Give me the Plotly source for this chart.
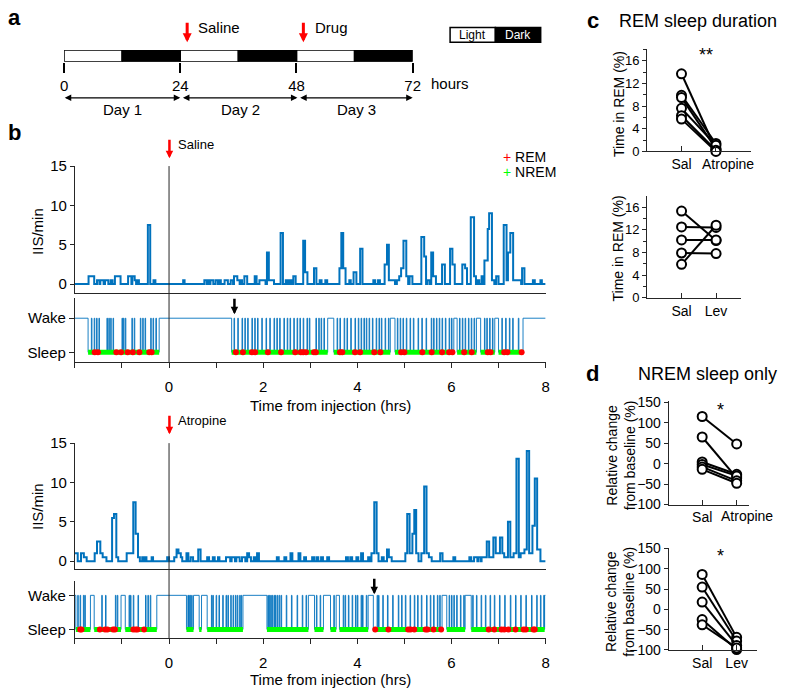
import plotly.graph_objects as go

W, H = 787, 696
BLUE = "#0072BD"
AX = "#262626"
FONT = "Liberation Sans, Arial, sans-serif"

# ---------------- panel a : recording timeline ----------------
light_start = [0, 24, 48]
light_end = [12, 36, 60]
dark_start = [12, 36, 60]
dark_end = [24, 48, 72]
day_ticks = [0, 24, 48, 72]
day_labels = ["Day 1", "Day 2", "Day 3"]

# ---------------- panel b : IIS rate (step series, hours / IIS per min) ----------------
sal_iis_t = [-2.00, -1.71, -1.59, -1.53, -1.48, -1.46, -1.39, -1.36, -1.29, -1.24, -1.20, -1.15, -1.03,
             -0.87, -0.80, -0.78, -0.73, -0.70, -0.67, -0.64, -0.45, -0.40, -0.33, -0.29, 0.30, 0.33,
             0.75, 0.80, 0.82, 0.86, 0.88, 0.94, 0.99, 1.04, 1.06, 1.10, 1.18, 1.25, 1.31, 1.36, 1.38,
             1.45, 1.50, 1.53, 1.55, 1.60, 1.66, 1.82, 1.86, 1.92, 2.05, 2.08, 2.12, 2.23, 2.37, 2.42,
             2.48, 2.52, 2.56, 2.60, 2.64, 2.69, 2.85, 2.89, 2.94, 3.08, 3.13, 3.20, 3.24, 3.32, 3.36,
             3.62, 3.66, 3.70, 3.75, 3.83, 3.86, 3.92, 3.98, 4.06, 4.11, 4.34, 4.38, 4.44, 4.48, 4.58,
             4.63, 4.67, 4.80, 4.84, 4.89, 4.93, 4.98, 5.04, 5.08, 5.11, 5.17, 5.36, 5.42, 5.46, 5.49,
             5.54, 5.57, 5.61, 5.67, 5.80, 5.86, 5.97, 6.02, 6.07, 6.23, 6.29, 6.33, 6.41, 6.48, 6.52,
             6.56, 6.59, 6.64, 6.67, 6.70, 6.77, 6.80, 6.86, 6.91, 6.95, 7.00, 7.11, 7.17, 7.20, 7.25,
             7.31, 7.48, 7.50, 7.55, 7.73, 7.77, 7.89, 7.92, 8.00]
sal_iis_v = [0, 1, 0, 0.5, 0, 0.5, 0, 0.5, 0, 0.5, 0, 1, 0,
             1, 0, 1, 0.5, 0, 0.5, 0, 7.5, 0, 0.5, 0, 0.5, 0,
             0.5, 0, 0.5, 0, 0.5, 0, 0.5, 0, 0.5, 0, 0.5, 0, 0.5, 0, 1,
             0.5, 0, 0.5, 0, 1, 0, 1, 0, 0.5, 0, 4, 0.5, 0, 6.5, 0,
             0.5, 0, 0.5, 0, 1, 0, 5.5, 1.5, 0, 2, 0, 0.5, 0, 0.5, 0,
             2, 6.5, 2, 0, 0.5, 0, 1.5, 0, 4.5, 0, 0.5, 0, 0.5, 0, 2.5,
             5, 0.5, 0, 0.5, 1, 2, 5.5, 1, 0, 1, 0, 6, 3.5, 0, 0.5,
             0, 4, 1, 0, 2.5, 0, 4.5, 2.5, 0, 2.5, 2, 0, 8.5, 1, 0,
             0.5, 0, 1, 0, 3, 7, 9, 0.5, 0, 1, 0, 7.5, 0.5, 4, 6.5,
             0.5, 0, 2, 0, 0.5, 0, 0.5, 0, 0]

atr_iis_t = [-2.00, -1.94, -1.87, -1.81, -1.75, -1.58, -1.53, -1.46, -1.41, -1.33, -1.21, -1.17, -1.12,
             -1.08, -0.90, -0.76, -0.71, -0.66, -0.62, -0.57, -0.55, -0.52, -0.48, -0.37, -0.34, -0.04,
             0.00, 0.11, 0.16, 0.20, 0.25, 0.28, 0.37, 0.41, 0.46, 0.51, 0.62, 0.67, 0.81, 0.85, 0.93,
             0.97, 1.04, 1.07, 1.21, 1.30, 1.33, 1.40, 1.43, 1.50, 1.55, 1.62, 1.66, 1.70, 1.74, 1.80,
             1.84, 1.87, 1.91, 2.29, 2.33, 2.45, 2.49, 2.58, 2.62, 2.75, 2.79, 2.87, 2.91, 3.04, 3.08,
             3.13, 3.17, 3.23, 3.27, 3.36, 3.40, 3.76, 3.80, 3.85, 3.89, 3.98, 4.02, 4.08, 4.12, 4.23,
             4.27, 4.30, 4.36, 4.41, 4.45, 4.52, 4.56, 4.63, 4.67, 4.73, 5.02, 5.06, 5.11, 5.17, 5.21,
             5.25, 5.30, 5.36, 5.42, 5.47, 5.52, 5.58, 5.76, 5.81, 6.04, 6.08, 6.38, 6.42, 6.48, 6.55,
             6.57, 6.62, 6.64, 6.75, 6.80, 6.89, 6.94, 7.03, 7.08, 7.12, 7.20, 7.25, 7.32, 7.38, 7.43,
             7.47, 7.55, 7.60, 7.65, 7.72, 7.77, 7.82, 7.89, 8.00]
atr_iis_v = [1, 0, 1, 0.5, 0, 1, 2.5, 1, 0.5, 0, 5.5, 6, 0.5,
             0, 1, 7.5, 3.5, 0.5, 0, 0.5, 0, 0.5, 0, 0.5, 0, 0.5,
             0, 0.5, 1.5, 1, 0.5, 0, 1, 0, 0.5, 0, 1.5, 0, 0.5, 0, 0.5,
             0, 0.5, 0, 0.5, 0, 0.5, 0, 0.5, 0, 0.5, 0, 1, 0.5, 0, 0.5,
             0, 1, 0, 0.5, 0, 0.5, 0, 1, 0, 1, 0, 0.5, 0, 0.5, 0,
             0.5, 0, 0.5, 0, 0.5, 0, 0.5, 0, 0.5, 0, 0.5, 0, 1, 0, 0.5,
             0, 1, 7.5, 1, 0, 0.5, 0, 1.5, 0.5, 0, 1, 6, 1, 3.5, 6.5,
             1, 0, 1, 9.5, 1, 0.5, 0, 1, 0, 0.5, 0, 0.5, 0, 0.5, 0,
             0.5, 0, 0.5, 2.5, 0.5, 3, 1, 3, 1, 0.5, 5, 0.5, 1, 13, 0.5,
             1, 1.5, 14, 1, 4.5, 10.5, 1.5, 0, 0]

# ---------------- panel b : hypnograms ----------------
sal_sleep_start = [-1.72, 1.33, 3.50, 4.80, 6.12, 6.62, 7.00]
sal_sleep_end = [-0.21, 3.37, 4.70, 6.05, 6.53, 6.92, 7.52]
sal_wake_blips = [-1.65, -1.59, -1.54, -1.49, -1.32, -1.28, -1.24, -1.19, -1.00, -0.97, -0.93, -0.79,
                  -0.74, -0.61, -0.56, -0.51, -0.39, -0.34, -0.28, 1.38, 1.46, 1.55, 1.61, 1.67, 1.76,
                  1.82, 1.88, 1.97, 2.06, 2.14, 2.23, 2.29, 2.35, 2.44, 2.51, 2.57, 2.65, 2.72, 2.78,
                  2.85, 2.93, 2.98, 3.12, 3.18, 3.23, 3.29, 3.57, 3.63, 3.72, 3.78, 3.86, 3.95, 4.02,
                  4.08, 4.14, 4.19, 4.25, 4.32, 4.40, 4.46, 4.51, 4.59, 4.66, 4.85, 4.91, 4.97, 5.04,
                  5.12, 5.19, 5.29, 5.37, 5.46, 5.57, 5.62, 5.68, 5.74, 5.80, 5.87, 5.95, 6.00, 6.17,
                  6.23, 6.29, 6.36, 6.42, 6.48, 6.70, 6.75, 6.81, 6.87, 7.07, 7.15, 7.23, 7.30, 7.42]
sal_rem = [-1.58, -1.51, -1.12, -1.02, -0.88, -0.77, -0.63, -0.42, -0.37, 1.42, 1.57, 1.76, 1.83, 2.10,
           2.38, 2.68, 2.80, 2.85, 2.91, 3.08, 3.12, 3.63, 3.68, 3.95, 4.06, 4.36, 4.49, 4.93, 5.00,
           5.38, 5.58, 5.80, 5.95, 6.02, 6.27, 6.43, 6.77, 6.83, 7.12, 7.19, 7.49]

atr_sleep_start = [-1.98, -1.59, -0.93, 0.37, 0.64, 0.81, 2.08, 3.09, 3.43, 3.62, 4.34, 5.90, 6.42]
atr_sleep_end = [-1.67, -1.02, -0.26, 0.52, 0.69, 1.57, 2.96, 3.28, 3.55, 4.23, 5.80, 6.29, 7.98]
atr_wake_blips = [-1.94, -1.89, -1.82, -1.79, -1.43, -1.35, -1.14, -1.10, -0.85, -0.82, -0.76, -0.66,
                  -0.50, -0.45, -0.40, 0.40, 0.42, 0.45, 0.48, 0.90, 0.93, 1.00, 1.06, 1.14, 1.21,
                  1.25, 1.31, 1.36, 1.41, 1.45, 1.50, 1.53, 2.10, 2.13, 2.16, 2.19, 2.23, 2.26, 2.30,
                  2.34, 2.38, 2.49, 2.60, 2.72, 2.83, 2.91, 3.13, 3.21, 3.50, 3.70, 3.74, 3.81, 3.89,
                  3.96, 4.00, 4.08, 4.11, 4.19, 4.42, 4.45, 4.54, 4.64, 4.75, 4.87, 4.94, 5.02, 5.12,
                  5.21, 5.28, 5.36, 5.47, 5.55, 5.62, 5.70, 5.75, 5.95, 6.00, 6.05, 6.11, 6.19, 6.26,
                  6.45, 6.53, 6.63, 6.72, 6.82, 6.91, 7.02, 7.13, 7.25, 7.36, 7.47, 7.58, 7.70, 7.81,
                  7.89, 7.96]
atr_rem = [-1.89, -1.86, -1.47, -1.36, -1.31, -1.19, -1.15, -0.76, -0.71, -0.67, -0.53, 4.38, 4.66,
           5.08, 5.13, 5.21, 5.45, 5.49, 5.62, 5.78, 6.79, 6.91, 7.06, 7.12, 7.21, 7.36, 7.53, 7.58,
           7.74, 7.77]

# ---------------- panel c : REM sleep duration (%) ----------------
c1_groups = ["Sal", "Atropine"]
c1_sal = [13.7, 9.9, 9.5, 7.6, 6.3, 5.7]
c1_drug = [0.3, 1.4, 0.5, 1.1, 0.2, 0.0]
c2_groups = ["Sal", "Lev"]
c2_sal = [15.3, 12.5, 10.2, 7.9, 5.9]
c2_drug = [10.1, 12.4, 10.2, 7.8, 12.8]

# ---------------- panel d : NREM relative change (%) ----------------
d1_groups = ["Sal", "Atropine"]
d1_sal = [115, 65, 4, -2, -8, -14]
d1_drug = [48, -35, -26, -30, -42, -48]
d2_groups = ["Sal", "Lev"]
d2_sal = [86, 55, 18, -25, -38]
d2_drug = [-69, -78, -89, -99, -95]


def fx(p):
    return p / W


def fy(p):
    return 1 - p / H


def hypnogram(starts, ends, blips, w=0.012):
    xs, ys = [-2.0], [1]
    for s, e in zip(starts, ends):
        xs.append(s)
        ys.append(0)
        for b in blips:
            if s < b < e:
                xs += [b, b + w]
                ys += [1, 0]
        xs.append(e)
        ys.append(1)
    xs.append(8.0)
    ys.append(1)
    return xs, ys


def nrem_band(starts, ends):
    xs, ys = [], []
    for s, e in zip(starts, ends):
        xs += [s, e, None]
        ys += [0, 0, None]
    return xs, ys


fig = go.Figure()

# panel a bars
fig.add_trace(go.Bar(
    y=[0] * len(light_start), x=[e - s for s, e in zip(light_start, light_end)], base=light_start,
    orientation="h", width=1, marker=dict(color="white", line=dict(color="black", width=1.5)),
    xaxis="x", yaxis="y", hoverinfo="skip",
))
fig.add_trace(go.Bar(
    y=[0] * len(dark_start), x=[e - s for s, e in zip(dark_start, dark_end)], base=dark_start,
    orientation="h", width=1, marker=dict(color="black", line=dict(color="black", width=1.5)),
    xaxis="x", yaxis="y", hoverinfo="skip",
))

# panel b traces
for (it, iv, ax_iis), (ss, se, bl, rem, ax_h) in [
    ((sal_iis_t, sal_iis_v, ("x2", "y2")), (sal_sleep_start, sal_sleep_end, sal_wake_blips, sal_rem, ("x3", "y3"))),
    ((atr_iis_t, atr_iis_v, ("x4", "y4")), (atr_sleep_start, atr_sleep_end, atr_wake_blips, atr_rem, ("x5", "y5"))),
]:
    fig.add_trace(go.Scatter(x=it, y=iv, mode="lines", line=dict(color=BLUE, width=2, shape="hv"),
                             xaxis=ax_iis[0], yaxis=ax_iis[1]))
    hx, hy = hypnogram(ss, se, bl)
    fig.add_trace(go.Scatter(x=hx, y=hy, mode="lines", line=dict(color=BLUE, width=0.9, shape="hv"),
                             xaxis=ax_h[0], yaxis=ax_h[1]))
    nx, ny = nrem_band(ss, se)
    fig.add_trace(go.Scatter(x=nx, y=ny, mode="lines", line=dict(color="#00FF00", width=5),
                             xaxis=ax_h[0], yaxis=ax_h[1]))
    fig.add_trace(go.Scatter(x=rem, y=[0] * len(rem), mode="markers",
                             marker=dict(color="#FF0000", size=6, symbol="circle"),
                             xaxis=ax_h[0], yaxis=ax_h[1]))

# panels c and d paired plots
for sal, drug, xa, ya in [(c1_sal, c1_drug, "x6", "y6"), (c2_sal, c2_drug, "x7", "y7"),
                          (d1_sal, d1_drug, "x8", "y8"), (d2_sal, d2_drug, "x9", "y9")]:
    for a, b in zip(sal, drug):
        fig.add_trace(go.Scatter(
            x=[1, 2], y=[a, b], mode="lines+markers", cliponaxis=False,
            line=dict(color="black", width=2),
            marker=dict(symbol="circle", size=9, color="white", line=dict(color="black", width=2)),
            xaxis=xa, yaxis=ya,
        ))

base_ax = dict(showgrid=False, zeroline=False, showline=True, linecolor=AX, linewidth=1,
               tickcolor=AX, tickfont=dict(size=15, color="black"))

hrs_x = dict(base_ax, domain=[fx(72), fx(550)], range=[-2, 8])
hr_ticks = list(range(-2, 9))
hr_text = [str(t) if t >= 0 and t % 2 == 0 else "" for t in hr_ticks]

layout = dict(
    xaxis=dict(domain=[fx(61), fx(415)], range=[0, 72], tickvals=day_ticks,
               ticktext=[str(t) for t in day_ticks], ticks="outside", ticklen=10, tickwidth=1.5,
               tickcolor="black", showline=False, showgrid=False, zeroline=False,
               tickfont=dict(size=15, color="black"), anchor="y"),
    yaxis=dict(domain=[fy(54), fy(42)], range=[-0.5, 0.5], visible=False, anchor="x"),

    xaxis2=dict(hrs_x, showticklabels=False, ticks="", anchor="y2"),
    yaxis2=dict(base_ax, domain=[fy(291), fy(161)], range=[-1.12, 15], tickvals=[0, 5, 10, 15],
                ticks="outside", ticklen=4, anchor="x2"),
    xaxis3=dict(hrs_x, tickvals=hr_ticks, ticktext=hr_text, ticks="outside", ticklen=5,
                ticklabelstandoff=6, anchor="y3"),
    yaxis3=dict(base_ax, domain=[fy(362), fy(296)], range=[-0.29, 1.6], tickvals=[0, 1],
                ticktext=["Sleep", "Wake"], ticks="outside", ticklen=5, anchor="x3"),

    xaxis4=dict(hrs_x, showticklabels=False, ticks="", anchor="y4"),
    yaxis4=dict(base_ax, domain=[fy(574), fy(445)], range=[-0.99, 15], tickvals=[0, 5, 10, 15],
                ticks="outside", ticklen=4, anchor="x4"),
    xaxis5=dict(hrs_x, tickvals=hr_ticks, ticktext=hr_text, ticks="outside", ticklen=5,
                ticklabelstandoff=6, anchor="y5"),
    yaxis5=dict(base_ax, domain=[fy(645), fy(586)], range=[-0.26, 1.43], tickvals=[0, 1],
                ticktext=["Sleep", "Wake"], ticks="outside", ticklen=5, anchor="x5"),
)

small_x = dict(base_ax, tickvals=[1, 2], ticks="inside", ticklen=5, tickangle=0,
               tickfont=dict(size=14, color="black"))
rem_y = dict(base_ax, range=[0, 18.07], tick0=0, dtick=4, ticks="outside", ticklen=4,
             minor=dict(dtick=2, ticks="outside", ticklen=3, tickcolor=AX),
             tickfont=dict(size=13, color="black"))
rel_y = dict(base_ax, range=[-100, 152.4], tick0=-100, dtick=50, ticks="outside", ticklen=4,
             tickfont=dict(size=14, color="black"))

layout.update(
    xaxis6=dict(small_x, domain=[fx(653), fx(759)], range=[0, 3.03], ticktext=["Sal", ""], anchor="y6"),
    yaxis6=dict(rem_y, domain=[fy(146), fy(41)], anchor="x6"),
    xaxis7=dict(small_x, domain=[fx(653), fx(748)], range=[0, 2.71], ticktext=c2_groups, anchor="y7"),
    yaxis7=dict(rem_y, domain=[fy(296), fy(192)], range=[0, 17.9], anchor="x7"),
    xaxis8=dict(small_x, domain=[fx(675), fx(757)], range=[0.03, 2.37], ticktext=["Sal", ""], anchor="y8"),
    yaxis8=dict(rel_y, domain=[fy(508), fy(402)], anchor="x8"),
    xaxis9=dict(small_x, domain=[fx(675), fx(765)], range=[0.03, 2.6], ticktext=d2_groups, anchor="y9"),
    yaxis9=dict(rel_y, domain=[fy(657), fy(552)], anchor="x9"),
)

fig.update_layout(**layout)

# vertical injection lines
fig.add_shape(type="line", xref="x2", yref="paper", x0=0, x1=0, y0=fy(362), y1=fy(161),
              line=dict(color=AX, width=1))
fig.add_shape(type="line", xref="x4", yref="paper", x0=0, x1=0, y0=fy(645), y1=fy(445),
              line=dict(color=AX, width=1))

# light / dark key
fig.add_shape(type="rect", xref="paper", yref="paper", x0=fx(453), x1=fx(499), y0=fy(34), y1=fy(19),
              fillcolor="white", line=dict(color="black", width=1.5))
fig.add_shape(type="rect", xref="paper", yref="paper", x0=fx(499), x1=fx(545), y0=fy(34), y1=fy(19),
              fillcolor="black", line=dict(color="black", width=1.5))

ann = []


def text(x, y, s, size=15, anchor="center", color="black", bold=False, angle=0):
    ann.append(dict(x=fx(x), y=fy(y), xref="paper", yref="paper", text=f"<b>{s}</b>" if bold else s,
                    showarrow=False, xanchor=anchor, yanchor="middle", textangle=angle,
                    font=dict(size=size, color=color, family=FONT)))


def down_arrow(x, y0, y1, color, width=3, size=0.6):
    ann.append(dict(x=fx(x), y=fy(y1), xref="paper", yref="paper", ax=0, ay=-(y1 - y0), text="",
                    showarrow=True, arrowhead=2, arrowsize=size, arrowwidth=width, arrowcolor=color,
                    standoff=0))


def span_arrow(x0, x1, y):
    ann.append(dict(x=fx(x1), y=fy(y), xref="paper", yref="paper", ax=-(x1 - x0), ay=0, text="",
                    showarrow=True, arrowhead=2, startarrowhead=2, arrowside="end+start",
                    arrowsize=1, startarrowsize=1, arrowwidth=1.3, arrowcolor="black",
                    standoff=0, startstandoff=0))


# panel a
text(11, 9, "a", size=22, bold=True)
down_arrow(186, 13, 34, "#FF0000")
text(195, 19, "Saline", anchor="left")
down_arrow(304, 13, 34, "#FF0000")
text(314, 19, "Drug", anchor="left")
text(476, 27, "Light", size=12)
text(522, 27, "Dark", size=12, color="white")
text(432, 76, "hours", anchor="left")
for (x0, x1), lbl in zip([(62, 179), (182, 298), (301, 415)], day_labels):
    span_arrow(x0, x1, 91)
    text((x0 + x1) / 2, 103, lbl)

# panel b
text(11, 127, "b", size=22, bold=True)
down_arrow(168, 133, 153, "#FF0000", width=2.5)
text(175, 139, "Saline", size=13, anchor="left")
down_arrow(168, 416, 436, "#FF0000", width=2.5)
text(175, 422, "Atropine", size=13, anchor="left")
down_arrow(234, 296, 313, "black", width=2.5)
down_arrow(376, 583, 600, "black", width=2.5)
text(505, 152, "<span style='color:#FF0000'>+</span> REM", size=14, anchor="left")
text(505, 167, "<span style='color:#00FF00'>+</span> NREM", size=14, anchor="left")
text(34, 228, "IIS/min", angle=-90)
text(34, 510, "IIS/min", angle=-90)
text(332, 406, "Time from injection (hrs)")
text(332, 687, "Time from injection (hrs)")

# panel c
text(598, 12, "c", size=22, bold=True)
text(622, 12, "REM sleep duration", size=18, anchor="left")
text(713, 47, "**", size=18)
text(624, 97, "Time in REM (%)", size=14, angle=-90)
text(624, 245, "Time in REM (%)", size=14, angle=-90)
text(735, 159, "Atropine", size=14)

# panel d
text(598, 374, "d", size=22, bold=True)
text(642, 374, "NREM sleep only", size=18, anchor="left")
text(728, 411, "*", size=18)
text(728, 561, "*", size=18)
text(626, 457, "Relative change<br>from baseline (%)", size=14, angle=-90)
text(626, 607, "Relative change<br>from baseline (%)", size=14, angle=-90)
text(755, 520, "Atropine", size=14)

fig.update_layout(
    width=W, height=H, autosize=False, margin=dict(l=0, r=0, t=0, b=0),
    paper_bgcolor="white", plot_bgcolor="white", showlegend=False, barmode="overlay",
    font=dict(family=FONT, color="black", size=14), annotations=ann,
)

fig.write_html("out.html", config={"displayModeBar": False},
               post_script="document.body.style.margin='0';")
